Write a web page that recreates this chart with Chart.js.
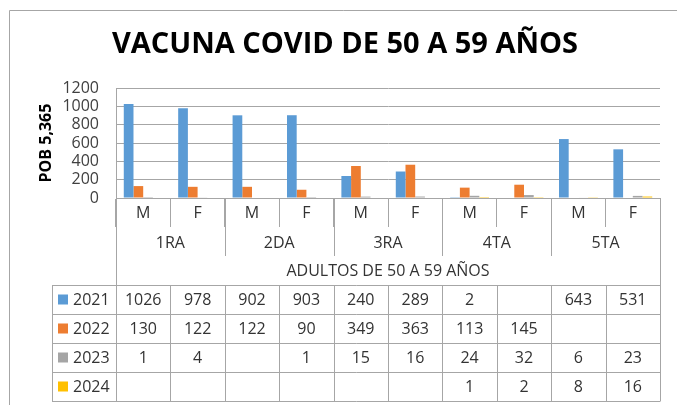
<!DOCTYPE html>
<html><head><meta charset="utf-8">
<script src="https://cdn.jsdelivr.net/npm/chart.js@4/dist/chart.umd.min.js"></script>
<style>html,body{margin:0;padding:0;background:#fff;}#wrap{width:677px;height:405px;}</style>
</head><body><div id="wrap"><canvas id="c" width="677" height="405"></canvas></div>
<script>
const chartTitle = 'VACUNA COVID DE 50 A 59 AÑOS';
const yAxisTitle = 'POB 5,365';
const categories = ['M','F','M','F','M','F','M','F','M','F'];
const groups = ['1RA','2DA','3RA','4TA','5TA'];
const groupTitle = 'ADULTOS DE 50 A 59 AÑOS';
const seriesNames = ['2021','2022','2023','2024'];
const values2021 = [1026,978,902,903,240,289,2,null,643,531];
const values2022 = [130,122,122,90,349,363,113,145,null,null];
const values2023 = [1,4,null,1,15,16,24,32,6,23];
const values2024 = [null,null,null,null,null,null,1,2,8,16];
const seriesColors = ['#5B9BD5','#ED7D31','#A5A5A5','#FFC000'];
const yMin = 0, yMax = 1200, yStep = 200;

const FONT = 'Open Sans';
const lineColor = '#a6a6a6';
const textColor = '#333333';
const allValues = [values2021, values2022, values2023, values2024];

const tablePlugin = {
  id: 'tablePlugin',
  beforeDraw(chart) {
    const ctx = chart.ctx;
    ctx.save();
    ctx.fillStyle = '#fff';
    ctx.fillRect(0, 0, chart.width, chart.height);
    ctx.restore();
  },
  afterDraw(chart) {
    const ctx = chart.ctx;
    const x = chart.scales.x;
    const area = chart.chartArea;
    const n = categories.length;
    const bound = i => {
      if (i <= 0) return x.getPixelForValue(0) - (x.getPixelForValue(1) - x.getPixelForValue(0)) / 2;
      if (i >= n) return x.getPixelForValue(n - 1) + (x.getPixelForValue(1) - x.getPixelForValue(0)) / 2;
      return (x.getPixelForValue(i - 1) + x.getPixelForValue(i)) / 2;
    };
    const base = area.bottom;
    const groupLineEnd = base + 58;
    const groupLabelY = base + 45;
    const titleY = base + 73;
    const tableTop = base + 87;
    const rowH = 29;
    const tableLeft = 52;
    const tableBottom = tableTop + rowH * seriesNames.length;

    ctx.save();
    ctx.lineWidth = 1;
    ctx.strokeStyle = lineColor;
    ctx.beginPath();
    ctx.moveTo(9.5, chart.height); ctx.lineTo(9.5, 10.5); ctx.lineTo(chart.width, 10.5);
    ctx.stroke();

    const px = v => Math.round(v) + 0.5;
    ctx.beginPath();
    ctx.moveTo(px(bound(0)), base); ctx.lineTo(px(bound(0)), tableBottom);
    ctx.moveTo(px(bound(n)), base); ctx.lineTo(px(bound(n)), tableBottom);
    for (let g = 1; g < groups.length; g++) {
      const bx = px(bound(g * 2));
      ctx.moveTo(bx, base); ctx.lineTo(bx, groupLineEnd);
    }
    for (let r = 0; r <= seriesNames.length; r++) {
      const yy = px(tableTop + r * rowH);
      ctx.moveTo(tableLeft, yy); ctx.lineTo(bound(n) + 0.5, yy);
    }
    ctx.moveTo(tableLeft + 0.5, tableTop); ctx.lineTo(tableLeft + 0.5, tableBottom);
    for (let i = 1; i < n; i++) {
      const bx = px(bound(i));
      ctx.moveTo(bx, tableTop); ctx.lineTo(bx, tableBottom);
    }
    ctx.stroke();

    ctx.fillStyle = textColor;
    ctx.font = '16px "' + FONT + '"';
    ctx.textAlign = 'center';
    ctx.textBaseline = 'middle';
    groups.forEach((g, gi) => {
      const cx = (bound(gi * 2) + bound(gi * 2 + 2)) / 2;
      ctx.fillText(g, cx, groupLabelY);
    });
    ctx.fillText(groupTitle, (bound(0) + bound(n)) / 2, titleY);

    seriesNames.forEach((s, r) => {
      const cy = tableTop + r * rowH + rowH / 2;
      ctx.fillStyle = seriesColors[r];
      ctx.fillRect(58, cy - 5, 10, 10);
      ctx.fillStyle = textColor;
      ctx.textAlign = 'left';
      ctx.fillText(s, 73, cy + 0.5);
      ctx.textAlign = 'center';
      allValues[r].forEach((v, i) => {
        if (v === null || v === undefined) return;
        ctx.fillText(String(v), x.getPixelForValue(i), cy + 0.5);
      });
    });
    ctx.restore();
  }
};

new Chart(document.getElementById('c'), {
  type: 'bar',
  data: {
    labels: categories,
    datasets: seriesNames.map((s, i) => ({
      label: s,
      data: allValues[i],
      backgroundColor: seriesColors[i],
      borderWidth: 0,
      barPercentage: 1,
      categoryPercentage: 0.714
    }))
  },
  options: {
    responsive: false,
    animation: false,
    devicePixelRatio: 1,
    layout: { padding: { left: 30, right: 17, top: 0, bottom: 0 } },
    plugins: {
      legend: { display: false },
      tooltip: { enabled: false },
      title: {
        display: true,
        text: chartTitle,
        color: '#000',
        font: { family: FONT, size: 29, weight: 'bold' },
        padding: { top: 27, bottom: 26.2 }
      }
    },
    scales: {
      x: {
        type: 'category',
        grid: { display: true, drawOnChartArea: false, drawTicks: true, tickLength: 29, offset: true, color: lineColor },
        border: { display: true, color: lineColor },
        ticks: { color: textColor, font: { family: FONT, size: 16 }, padding: -23, maxRotation: 0, autoSkip: false },
        afterFit(scale) { scale.height = 207; }
      },
      y: {
        min: yMin, max: yMax,
        ticks: { stepSize: yStep, autoSkip: false, color: '#404040', font: { family: FONT, size: 16, lineHeight: 1 }, padding: 17,
                 callback: v => String(v) },
        grid: { color: lineColor, drawTicks: false },
        border: { display: true, color: lineColor },
        title: { display: true, text: yAxisTitle, color: '#000', font: { family: FONT, size: 16, weight: 'bold' }, padding: { top: 7, bottom: 0 } },
        afterFit(scale) { scale.width = 86; }
      }
    }
  },
  plugins: [tablePlugin]
});
</script>
</body></html>
